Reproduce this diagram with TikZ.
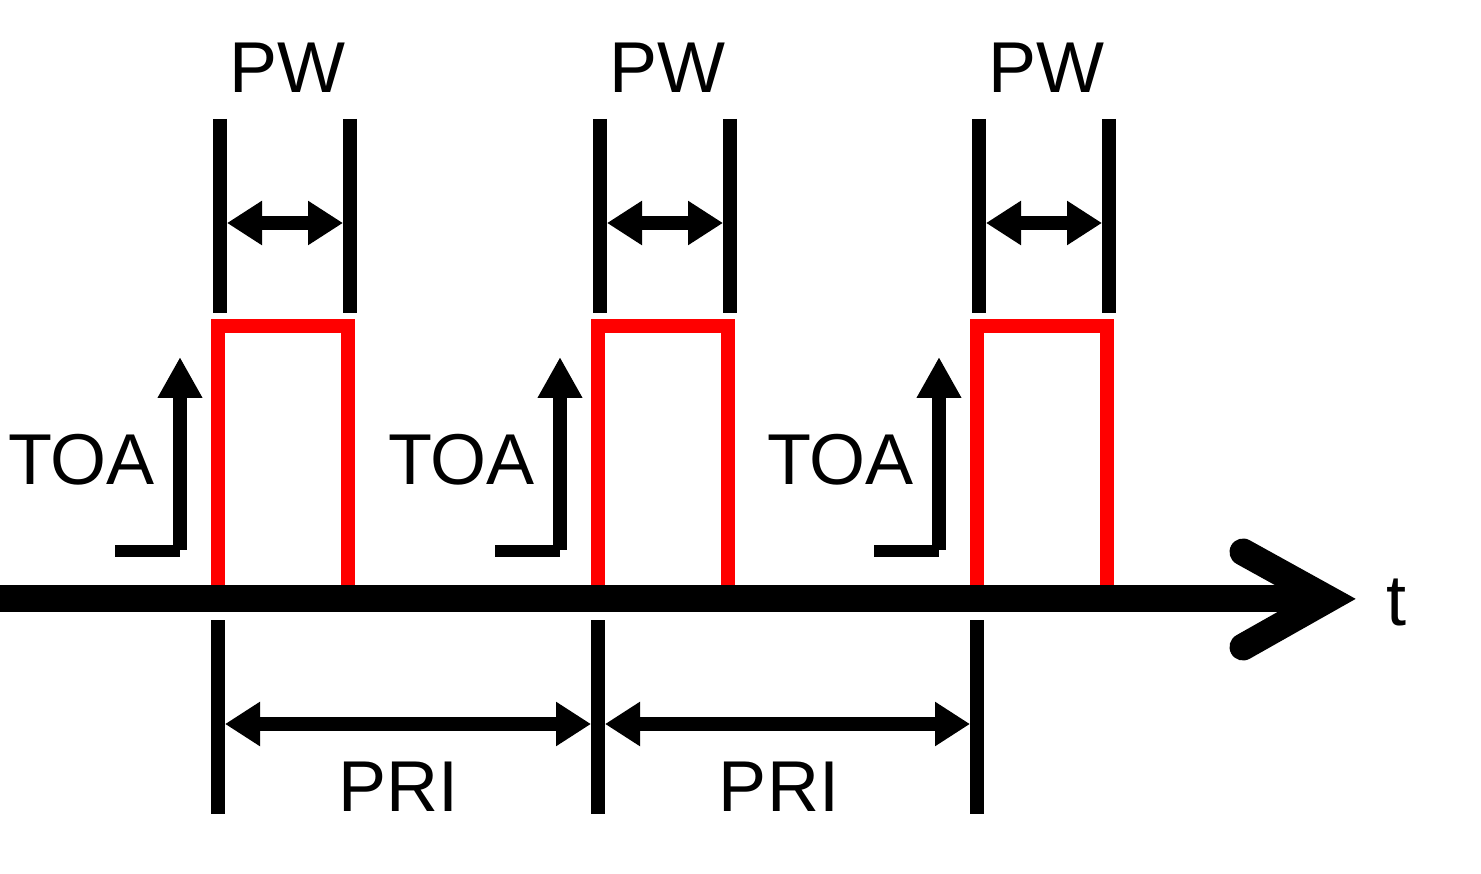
\documentclass[tikz,border=0pt]{standalone}
\usepackage{fontspec}
\setmainfont{Liberation Sans}
\usetikzlibrary{arrows.meta}
\begin{document}
\begin{tikzpicture}[x=1pt,y=-1pt,
  lbl/.style={font=\fontsize{72}{80}\selectfont, inner sep=0pt, anchor=base},
  bar/.style={line width=14pt, black},
  dimline/.style={line width=14pt, {Triangle[length=35pt,width=42pt]}-{Triangle[length=35pt,width=42pt]}},
  toaline/.style={line width=14pt, -{Triangle[length=41pt,width=42pt]}},
  toaleg/.style={line width=12pt},
  pulse/.style={line width=14pt, red, line join=miter},
  axisline/.style={line width=27pt},
  chevron/.style={line width=27pt, line cap=round, line join=miter}]
\useasboundingbox (0,0) rectangle (1481,874);

\foreach \i/\p in {1/218, 2/598, 3/977} {
  % red pulse
  \coordinate (pb\i) at (\p,592);
  \coordinate (pt\i) at (\p,326);
  \coordinate (qt\i) at (\p+130,326);
  \coordinate (qb\i) at (\p+130,592);
  \draw[pulse] (pb\i) -- (pt\i) -- (qt\i) -- (qb\i);
  % PW bars and arrow
  \coordinate (pwLt\i) at (\p+2,119);
  \coordinate (pwLb\i) at (\p+2,313);
  \coordinate (pwRt\i) at (\p+132,119);
  \coordinate (pwRb\i) at (\p+132,313);
  \draw[bar] (pwLt\i) -- (pwLb\i);
  \draw[bar] (pwRt\i) -- (pwRb\i);
  \coordinate (pwA\i) at (\p+9,223);
  \coordinate (pwB\i) at (\p+125,223);
  \draw[dimline] (pwA\i) -- (pwB\i);
  \node[lbl] (pw\i) at (\p+69,93) {PW};
  % TOA arrow
  \coordinate (toaS\i) at (\p-103,551);
  \coordinate (toaC\i) at (\p-38,551);
  \coordinate (toaB\i) at (\p-38,550);
  \coordinate (toaT\i) at (\p-38,357);
  \draw[toaleg] (toaS\i) -- (toaC\i);
  \draw[toaline] (toaB\i) -- (toaT\i);
  \node[lbl] (toa\i) at (\p-136.5,485) {TOA};
  % PRI bars
  \coordinate (priT\i) at (\p,620);
  \coordinate (priB\i) at (\p,814);
  \draw[bar] (priT\i) -- (priB\i);
}

% PRI arrows
\coordinate (priA1) at (225,724);
\coordinate (priB1) at (591,724);
\coordinate (priA2) at (605,724);
\coordinate (priB2) at (970,724);
\draw[dimline] (priA1) -- (priB1);
\draw[dimline] (priA2) -- (priB2);
\node[lbl] (pri1) at (398.5,811) {PRI};
\node[lbl] (pri2) at (779,811) {PRI};

% time axis
\coordinate (ax0) at (-5,598);
\coordinate (ax1) at (1320,598);
\coordinate (chU) at (1243,552);
\coordinate (chT) at (1328,599);
\coordinate (chL) at (1243,647);
\draw[axisline] (ax0) -- (ax1);
\draw[chevron] (chU) -- (chT) -- (chL);
\node[lbl, anchor=base west] (tlab) at (1386,625) {t};
\end{tikzpicture}
\end{document}
